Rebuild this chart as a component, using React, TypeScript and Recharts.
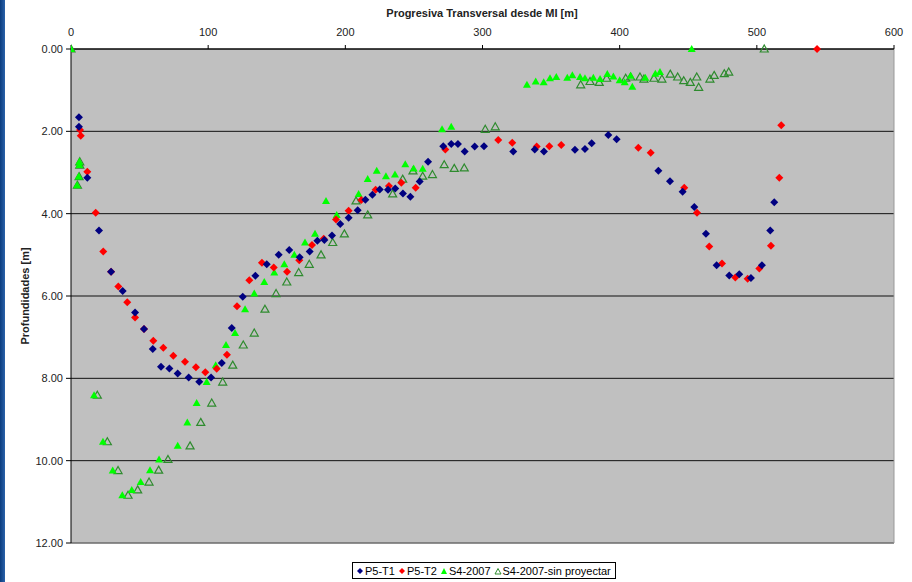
import { CartesianGrid, ReferenceLine, Scatter, ScatterChart, XAxis, YAxis } from "recharts";

const xTicks = [0, 100, 200, 300, 400, 500, 600];
const yTicks = [0, 2, 4, 6, 8, 10, 12];

const p5t1X = [5.8, 5.8, 11.9, 20.4, 29.2, 37.7, 46.7, 53.2, 59.6, 65.6, 71.7, 77.8, 85.8, 93.5, 102.1, 109.9, 117.2, 125.2, 134.4, 142.7, 151.4, 159.1, 166.7, 174.0, 179.6, 184.7, 190.3, 196.3, 202.4, 209.0, 214.6, 219.7, 225.1, 231.1, 236.4, 242.0, 247.4, 254.2, 260.3, 271.4, 277.2, 282.1, 287.0, 294.3, 301.1, 322.4, 338.1, 344.8, 367.4, 374.7, 379.6, 391.7, 397.8, 428.2, 436.7, 445.9, 454.4, 462.9, 470.7, 479.9, 487.2, 495.7, 503.7, 509.8, 512.7];
const p5t1Y = [1.66, 1.89, 3.13, 4.41, 5.41, 5.88, 6.4, 6.8, 7.29, 7.72, 7.76, 7.88, 7.98, 8.08, 7.98, 7.63, 6.78, 6.02, 5.51, 5.23, 5.0, 4.88, 5.06, 4.92, 4.66, 4.64, 4.53, 4.25, 4.1, 3.92, 3.66, 3.54, 3.41, 3.42, 3.39, 3.51, 3.59, 3.22, 2.74, 2.36, 2.31, 2.31, 2.49, 2.37, 2.36, 2.49, 2.44, 2.49, 2.45, 2.43, 2.29, 2.09, 2.19, 2.96, 3.21, 3.47, 3.84, 4.49, 5.25, 5.5, 5.47, 5.56, 5.25, 4.41, 3.72];

const p5t2X = [6.6, 7.1, 11.9, 18.0, 23.5, 29.2, 34.5, 41.0, 46.7, 53.2, 60.0, 67.3, 74.6, 83.1, 91.1, 97.9, 106.2, 113.7, 121.0, 130.0, 139.2, 147.8, 157.5, 166.4, 175.7, 184.2, 193.2, 202.4, 211.6, 222.1, 231.8, 240.8, 251.3, 272.9, 311.5, 321.7, 339.5, 348.7, 357.4, 413.6, 422.6, 447.1, 456.4, 465.3, 474.6, 484.3, 493.3, 501.8, 510.3, 516.4, 517.8, 543.9];
const p5t2Y = [1.97, 2.11, 2.98, 3.98, 4.92, 5.41, 5.77, 6.15, 6.52, 6.8, 7.09, 7.26, 7.45, 7.6, 7.73, 7.85, 7.77, 7.43, 6.25, 5.62, 5.19, 5.31, 5.41, 5.13, 4.76, 4.61, 4.14, 3.93, 3.67, 3.42, 3.33, 3.25, 3.37, 2.44, 2.21, 2.28, 2.37, 2.36, 2.33, 2.4, 2.52, 3.37, 3.98, 4.8, 5.21, 5.55, 5.58, 5.33, 4.78, 3.13, 1.85, 0];

const s4X = [0, 4.4, 5.6, 6.1, 6.1, 16.8, 23.3, 30.4, 37.4, 44.3, 50.8, 57.6, 64.2, 77.8, 84.8, 91.6, 98.9, 105.5, 113.0, 119.6, 126.9, 133.6, 140.9, 148.2, 155.5, 162.8, 170.6, 177.9, 185.9, 193.7, 209.7, 216.3, 222.9, 229.6, 236.2, 243.7, 249.8, 256.4, 270.5, 277.2, 332.4, 338.8, 344.6, 349.2, 353.8, 361.8, 365.5, 371.1, 374.7, 380.8, 385.7, 391.0, 395.4, 400.0, 403.7, 408.0, 409.2, 418.7, 426.0, 429.4, 452.5];
const s4Y = [0, 3.31, 3.1, 2.74, 2.82, 8.41, 9.54, 10.24, 10.84, 10.71, 10.52, 10.23, 9.97, 9.64, 9.07, 8.6, 8.09, 7.68, 7.19, 6.9, 6.32, 5.94, 5.66, 5.43, 5.23, 5.0, 4.7, 4.49, 3.69, 4.03, 3.52, 3.16, 2.96, 3.09, 3.05, 2.8, 2.9, 2.91, 1.95, 1.89, 0.87, 0.79, 0.81, 0.71, 0.68, 0.7, 0.64, 0.68, 0.71, 0.7, 0.73, 0.61, 0.67, 0.76, 0.81, 0.65, 0.92, 0.7, 0.6, 0.56, 0];

const s4spX = [0, 4.7, 5.9, 6.4, 6.4, 19.2, 26.5, 34.3, 41.6, 48.6, 56.9, 63.9, 70.7, 86.8, 94.6, 102.6, 110.6, 117.9, 125.6, 133.6, 141.4, 149.5, 157.3, 166.0, 173.7, 182.3, 190.8, 199.3, 207.8, 216.3, 234.5, 241.8, 249.3, 256.4, 263.5, 272.1, 279.4, 286.7, 302.0, 309.3, 371.6, 378.4, 385.1, 390.5, 404.4, 408.0, 414.8, 417.7, 425.0, 430.8, 436.9, 442.3, 446.7, 451.5, 456.2, 457.6, 465.8, 468.9, 476.3, 479.5, 505.4];
const s4spY = [0, 3.31, 3.1, 2.74, 2.82, 8.41, 9.54, 10.24, 10.84, 10.71, 10.52, 10.23, 9.97, 9.64, 9.07, 8.6, 8.09, 7.68, 7.19, 6.9, 6.32, 5.94, 5.66, 5.43, 5.23, 5.0, 4.7, 4.49, 3.69, 4.03, 3.52, 3.16, 2.96, 3.09, 3.05, 2.81, 2.9, 2.89, 1.95, 1.89, 0.87, 0.79, 0.81, 0.71, 0.71, 0.68, 0.68, 0.73, 0.71, 0.73, 0.61, 0.68, 0.77, 0.81, 0.68, 0.93, 0.73, 0.64, 0.6, 0.56, 0];

const toPoints = (xs: number[], ys: number[]) => xs.map((x, i) => ({ x, y: ys[i] }));

const FONT = "Arial, 'Liberation Sans', sans-serif";

function diamond(color: string) {
  return (props: any) => {
    const { cx, cy } = props;
    return <path d={`M${cx},${cy - 4}L${cx + 4},${cy}L${cx},${cy + 4}L${cx - 4},${cy}Z`} fill={color} />;
  };
}

function triangle(filled: boolean) {
  return (props: any) => {
    const { cx, cy } = props;
    const d = `M${cx},${cy - 4}L${cx + 4},${cy + 3}L${cx - 4},${cy + 3}Z`;
    return filled ? (
      <path d={d} fill="#00FF00" />
    ) : (
      <path d={d} fill="none" stroke="#2E8B2E" strokeWidth={1.2} />
    );
  };
}

function XTick(props: any) {
  const { x, payload } = props;
  return (
    <text x={x} y={36} textAnchor="middle" fontSize={11} fill="#222" fontFamily={FONT}>
      {payload.value}
    </text>
  );
}

function YTick(props: any) {
  const { y, payload } = props;
  return (
    <text x={63} y={y + 4} textAnchor="end" fontSize={11} fill="#222" fontFamily={FONT}>
      {payload.value.toFixed(2)}
    </text>
  );
}

function LegendBox() {
  const item = (sym: any, label: string) => (
    <span style={{ display: "inline-flex", alignItems: "center", marginRight: 3 }}>
      <svg width={8} height={8} style={{ marginRight: 1 }}>{sym}</svg>
      {label}
    </span>
  );
  return (
    <div
      style={{
        position: "absolute", left: 352, top: 562, width: 264, height: 17,
        border: "1px solid #000", fontFamily: FONT, fontSize: 11, color: "#000",
        display: "flex", alignItems: "center", paddingLeft: 3, boxSizing: "border-box", whiteSpace: "nowrap",
      }}
    >
      {item(<path d="M4,1L7,4L4,7L1,4Z" fill="#000080" />, "P5-T1")}
      {item(<path d="M4,1L7,4L4,7L1,4Z" fill="#FF0000" />, "P5-T2")}
      {item(<path d="M4,1L7,7L1,7Z" fill="#00FF00" />, "S4-2007")}
      {item(<path d="M4,1.5L7,7L1,7Z" fill="none" stroke="#2E8B2E" />, "S4-2007-sin proyectar")}
    </div>
  );
}

export default function App() {
  return (
    <div style={{ position: "absolute", left: 0, top: 0, width: 912, height: 582, background: "#fff", overflow: "hidden" }}>
      <div style={{ position: "absolute", left: 0, top: 0, width: 5, height: 582, background: "linear-gradient(90deg, #0B3C7E, #2A62AA)" }} />
      <ScatterChart width={912} height={582} margin={{ top: 29, right: 18, bottom: 39, left: 0 }}>
        <CartesianGrid fill="#C0C0C0" vertical={false} stroke="#111" />
        <XAxis
          type="number" dataKey="x" orientation="top" domain={[0, 600]} ticks={xTicks} height={20}
          axisLine={{ stroke: "#000" }} tickLine={{ stroke: "#000" }} tickSize={4} tick={<XTick />}
          allowDataOverflow
        />
        <YAxis
          type="number" dataKey="y" reversed domain={[0, 12]} ticks={yTicks} width={71}
          axisLine={{ stroke: "#000" }} tickLine={{ stroke: "#000" }} tickSize={5} tick={<YTick />}
        />
        <ReferenceLine y={12} stroke="#999" />
        <ReferenceLine x={600} stroke="#999" />
        <Scatter data={toPoints(s4spX, s4spY)} shape={triangle(false)} isAnimationActive={false} />
        <Scatter data={toPoints(s4X, s4Y)} shape={triangle(true)} isAnimationActive={false} />
        <Scatter data={toPoints(p5t2X, p5t2Y)} shape={diamond("#FF0000")} isAnimationActive={false} />
        <Scatter data={toPoints(p5t1X, p5t1Y)} shape={diamond("#000080")} isAnimationActive={false} />
        <text x={482} y={17} textAnchor="middle" fontSize={11} fontWeight="bold" fill="#222" fontFamily={FONT}>
          Progresiva Transversal desde MI [m]
        </text>
        <text x={29} y={296} textAnchor="middle" fontSize={11} fontWeight="bold" fill="#222" fontFamily={FONT} transform="rotate(-90 29 296)">
          Profundidades [m]
        </text>
      </ScatterChart>
      <LegendBox />
    </div>
  );
}
